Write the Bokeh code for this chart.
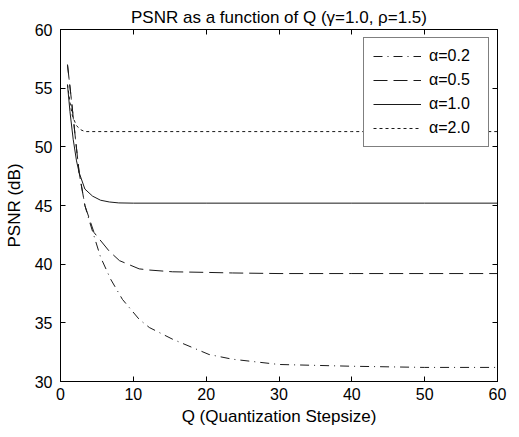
from bokeh.plotting import figure
from bokeh.models import Range1d, LinearAxis, Legend, LegendItem, FixedTicker, Title
from bokeh.embed import file_html
from bokeh.resources import INLINE

# Data
q_a02 = [0.96, 1.5, 2.0, 2.56, 3.35, 4.0, 5.5, 6.9, 8.5, 10.8, 12.2, 15.4, 20.4, 23.6, 30.0, 40.0, 50.0, 60.0]
psnr_a02 = [57.0, 54.0, 51.0, 47.8, 45.0, 43.6, 40.6, 38.7, 37.0, 35.3, 34.6, 33.6, 32.3, 31.9, 31.45, 31.3, 31.2, 31.2]

q_a05 = [0.96, 1.5, 2.0, 2.56, 3.35, 4.6, 6.7, 8.1, 10.8, 12.2, 15.4, 20.0, 23.6, 30.0, 40.0, 50.0, 60.0]
psnr_a05 = [57.0, 54.0, 51.0, 47.8, 45.0, 42.7, 41.1, 40.3, 39.6, 39.5, 39.35, 39.3, 39.25, 39.2, 39.2, 39.2, 39.2]

q_a10 = [0.96, 1.3, 1.74, 2.2, 2.56, 3.35, 4.4, 5.5, 6.7, 8.0, 10.0, 20.0, 30.0, 40.0, 50.0, 60.0]
psnr_a10 = [55.3, 53.0, 50.65, 48.8, 47.8, 46.4, 45.8, 45.45, 45.3, 45.22, 45.2, 45.2, 45.2, 45.2, 45.2, 45.2]

q_a20 = [0.96, 1.3, 1.65, 2.2, 2.8, 3.35, 4.0, 5.0, 10.0, 20.0, 30.0, 40.0, 50.0, 60.0]
psnr_a20 = [55.3, 53.8, 52.6, 51.8, 51.45, 51.3, 51.3, 51.3, 51.3, 51.3, 51.3, 51.3, 51.3, 51.3]

x_ticks = [0, 10, 20, 30, 40, 50, 60]
y_ticks = [30, 35, 40, 45, 50, 55, 60]
labels = ["α=0.2", "α=0.5", "α=1.0", "α=2.0"]

FONT = "Liberation Sans"

p = figure(width=511, height=429, output_backend="svg", toolbar_location=None,
           x_range=Range1d(0, 60), y_range=Range1d(30, 60),
           min_border_left=60, min_border_right=14, min_border_bottom=48, min_border_top=29)

p.title = Title(text="PSNR as a function of Q (γ=1.0, ρ=1.5)", align="center",
                text_font=FONT, text_font_size="17px", text_font_style="normal",
                text_color="black", offset=0, standoff=6)

p.grid.visible = False
p.outline_line_color = "black"
p.outline_line_width = 1
p.background_fill_color = "white"
p.border_fill_color = "white"


def style_axis(ax, ticks, show_labels=True):
    ax.ticker = FixedTicker(ticks=ticks)
    ax.major_tick_in = 5
    ax.major_tick_out = 0
    ax.minor_tick_in = 0
    ax.minor_tick_out = 0
    ax.axis_line_color = "black"
    ax.major_tick_line_color = "black"
    ax.major_label_text_font = FONT
    ax.major_label_text_font_size = "16px"
    ax.major_label_text_color = "black"
    ax.axis_label_text_font = FONT
    ax.axis_label_text_font_size = "17px"
    ax.axis_label_text_font_style = "normal"
    ax.axis_label_text_color = "black"
    if not show_labels:
        ax.major_label_overrides = {t: "" for t in ticks}
        ax.major_label_standoff = 0


bottom_ax = p.xaxis[0]
left_ax = p.yaxis[0]
style_axis(bottom_ax, x_ticks)
style_axis(left_ax, y_ticks)
bottom_ax.axis_label = "Q (Quantization Stepsize)"
left_ax.axis_label = "PSNR (dB)"
bottom_ax.major_label_standoff = 6
bottom_ax.axis_label_standoff = 4
left_ax.major_label_standoff = 8
left_ax.axis_label_standoff = 8

top_ax = LinearAxis()
right_ax = LinearAxis()
style_axis(top_ax, x_ticks, show_labels=False)
style_axis(right_ax, y_ticks, show_labels=False)
p.add_layout(top_ax, "above")
p.add_layout(right_ax, "right")

col = "#1a1a1a"
r1 = p.line(q_a02, psnr_a02, line_color=col, line_width=1, line_dash="9 5 1 5")
r2 = p.line(q_a05, psnr_a05, line_color=col, line_width=1, line_dash="14 6")
r3 = p.line(q_a10, psnr_a10, line_color=col, line_width=1)
r4 = p.line(q_a20, psnr_a20, line_color=col, line_width=1, line_dash="3 3")

legend = Legend(items=[LegendItem(label=labels[0], renderers=[r1]),
                       LegendItem(label=labels[1], renderers=[r2]),
                       LegendItem(label=labels[2], renderers=[r3]),
                       LegendItem(label=labels[3], renderers=[r4])],
                location="top_right",
                label_text_font=FONT, label_text_font_size="16px",
                label_text_color="black",
                border_line_color="black", border_line_width=1,
                background_fill_alpha=1.0,
                glyph_width=48, glyph_height=16, label_height=16, label_width=50,
                spacing=6, padding=9, margin=8, label_standoff=8)
p.add_layout(legend, "center")

open("out.html", "w").write(file_html(p, INLINE))
